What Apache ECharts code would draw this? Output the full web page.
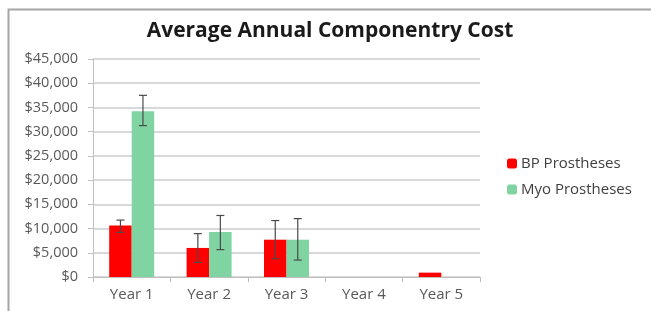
<!DOCTYPE html>
<html>
<head>
<meta charset="utf-8">
<script src="https://cdn.jsdelivr.net/npm/echarts@6/dist/echarts.min.js"></script>
<style>
  html, body { margin: 0; padding: 0; background: #fff; }
  #chart { width: 651px; height: 311px; }
</style>
</head>
<body>
<div id="chart"></div>
<script>
var years = ['Year 1', 'Year 2', 'Year 3', 'Year 4', 'Year 5'];
var bpCost = [10650, 6000, 7700, 0, 900];
var bpLow = [9200, 3000, 3800, null, null];
var bpHigh = [11750, 8950, 11650, null, null];
var myoCost = [34200, 9300, 7700, 0, 0];
var myoLow = [31250, 5650, 3500, null, null];
var myoHigh = [37500, 12700, 12050, null, null];
var yTicks = [0, 5000, 10000, 15000, 20000, 25000, 30000, 35000, 40000, 45000];

var chart = echarts.init(document.getElementById('chart'));

function errData(low, high) {
  var out = [];
  for (var i = 0; i < years.length; i++) {
    if (low[i] != null) out.push([i, low[i], high[i]]);
  }
  return out;
}

// whisker drawn beside the bar; offset picks which half of the category
function errSeries(name, low, high, offset) {
  return {
    type: 'custom',
    name: name + ' err',
    z: 10,
    silent: true,
    renderItem: function (params, api) {
      var lo = api.coord([api.value(0), api.value(1)]);
      var hi = api.coord([api.value(0), api.value(2)]);
      var x = lo[0] + offset;
      var cap = 4;
      var st = { stroke: '#4a4a4a', lineWidth: 1.2 };
      return {
        type: 'group',
        children: [
          { type: 'line', shape: { x1: x, y1: hi[1], x2: x, y2: lo[1] }, style: st },
          { type: 'line', shape: { x1: x - cap, y1: hi[1], x2: x + cap, y2: hi[1] }, style: st },
          { type: 'line', shape: { x1: x - cap, y1: lo[1], x2: x + cap, y2: lo[1] }, style: st }
        ]
      };
    },
    encode: { x: 0, y: [1, 2] },
    data: errData(low, high)
  };
}

var option = {
  animation: false,
  textStyle: { fontFamily: 'Open Sans' },
  graphic: [{
    type: 'rect',
    left: 6, top: 7,
    shape: { width: 700, height: 400 },
    style: { fill: 'none', stroke: '#a6a6a6', lineWidth: 2 },
    z: -1
  }],
  title: {
    text: 'Average Annual Componentry Cost',
    left: 325, top: 16,
    textAlign: 'center',
    textStyle: { fontFamily: 'Open Sans', fontWeight: 'bold', fontSize: 21, color: '#1a1a1a' }
  },
  legend: {
    orient: 'vertical',
    left: 507, top: 156,
    padding: 0,
    itemWidth: 10, itemHeight: 10,
    itemGap: 11,
    textStyle: { fontSize: 15, color: '#404040', padding: [0, 0, 0, -1] },
    data: ['BP Prostheses', 'Myo Prostheses']
  },
  grid: { left: 93, right: 171, top: 59, bottom: 34 },
  xAxis: {
    type: 'category',
    data: years,
    axisLine: { lineStyle: { color: '#bfbfbf' } },
    axisTick: { show: true, length: 5, lineStyle: { color: '#bfbfbf' } },
    axisLabel: { fontSize: 15, color: '#595959', margin: 10 }
  },
  yAxis: {
    type: 'value',
    min: yTicks[0], max: yTicks[yTicks.length - 1], interval: 5000,
    axisLine: { show: true, lineStyle: { color: '#bfbfbf' } },
    axisTick: { show: true, length: 5, lineStyle: { color: '#bfbfbf' } },
    splitLine: { lineStyle: { color: '#d9d9d9', width: 2 } },
    axisLabel: {
      fontSize: 14.5, color: '#595959', margin: 15,
      formatter: function (v) { return '$' + v.toLocaleString('en-US'); }
    }
  },
  series: [
    {
      name: 'BP Prostheses',
      type: 'bar',
      barWidth: 22.5,
      barGap: '0%',
      itemStyle: { color: '#ff0000' },
      data: bpCost
    },
    {
      name: 'Myo Prostheses',
      type: 'bar',
      barWidth: 22.5,
      itemStyle: { color: '#80d4a2' },
      data: myoCost
    },
    errSeries('BP Prostheses', bpLow, bpHigh, -11.25),
    errSeries('Myo Prostheses', myoLow, myoHigh, 11.25)
  ]
};

chart.setOption(option);
</script>
</body>
</html>
